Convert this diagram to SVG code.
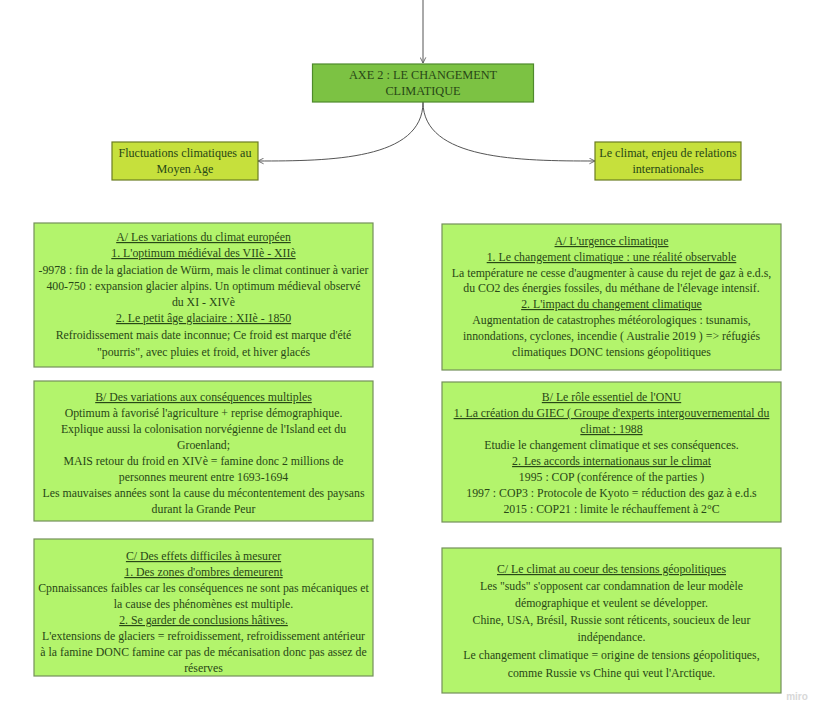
<svg xmlns="http://www.w3.org/2000/svg" width="828" height="721" viewBox="0 0 828 721">
<style>
.t{font-family:"Liberation Serif","Times New Roman",serif;font-size:11.8px;fill:#284716;text-anchor:middle}
.u{text-decoration:underline}
.top{fill:#7cc243;stroke:#4f8a2c;stroke-width:1.2}
.lvl{fill:#c6e03c;stroke:#6c7d22;stroke-width:1.2}
.box{fill:#b3f46c;stroke:#74905a;stroke-width:1.2}
.c{fill:none;stroke:#555;stroke-width:1}
</style>
<defs>
<marker id="ah" viewBox="0 0 10 10" refX="9" refY="5" markerWidth="7" markerHeight="7" orient="auto-start-reverse" markerUnits="userSpaceOnUse">
<path d="M1,1 L9,5 L1,9" fill="none" stroke="#555" stroke-width="1.2"/>
</marker>
</defs>
<rect width="828" height="721" fill="#fff"/>
<g id="connectors">
<path class="c" d="M423,0 L423,63" marker-end="url(#ah)"/>
<path class="c" d="M423,102 C423,160 330,161 258,161" marker-end="url(#ah)"/>
<path class="c" d="M423,102 C423,160 520,161 595,161" marker-end="url(#ah)"/>
</g>
<g id="axe2">
<rect class="top" x="312.5" y="64" width="221" height="38"/>
<text class="t" x="423" y="79" style="font-size:12.3px">AXE 2 : LE CHANGEMENT</text>
<text class="t" x="423" y="95" style="font-size:12.3px">CLIMATIQUE</text>
</g>
<g id="fluctuations">
<rect class="lvl" x="112" y="142" width="146" height="38"/>
<text class="t" x="185" y="157" style="font-size:12.1px">Fluctuations climatiques au</text>
<text class="t" x="185" y="173" style="font-size:12.1px">Moyen Age</text>
</g>
<g id="enjeu">
<rect class="lvl" x="595" y="142" width="146" height="38"/>
<text class="t" x="668" y="157" style="font-size:12.1px">Le climat, enjeu de relations</text>
<text class="t" x="668" y="173" style="font-size:12.1px">internationales</text>
</g>
<g id="left-a">
<rect class="box" x="34" y="223" width="339" height="144"/>
<text class="t u" x="203.5" y="241">A/ Les variations du climat européen</text>
<text class="t u" x="203.5" y="257">1. L'optimum médiéval des VIIè - XIIè</text>
<text class="t" x="203.5" y="274">-9978 : fin de la glaciation de Würm, mais le climat continuer à varier</text>
<text class="t" x="203.5" y="290">400-750 : expansion glacier alpins. Un optimum médieval observé</text>
<text class="t" x="203.5" y="306">du XI - XIVè</text>
<text class="t u" x="203.5" y="322">2. Le petit âge glaciaire  : XIIè - 1850</text>
<text class="t" x="203.5" y="339">Refroidissement mais date inconnue; Ce froid est marque d'été</text>
<text class="t" x="203.5" y="356">"pourris", avec pluies et froid, et hiver glacés</text>
</g>
<g id="left-b">
<rect class="box" x="34" y="381" width="339" height="140"/>
<text class="t u" x="203.5" y="401">B/ Des variations aux conséquences multiples</text>
<text class="t" x="203.5" y="417">Optimum à favorisé l'agriculture + reprise démographique.</text>
<text class="t" x="203.5" y="433">Explique aussi la colonisation norvégienne de l'Island eet du</text>
<text class="t" x="203.5" y="449">Groenland;</text>
<text class="t" x="203.5" y="465">MAIS retour du froid en XIVè = famine donc 2 millions de</text>
<text class="t" x="203.5" y="481">personnes meurent entre 1693-1694</text>
<text class="t" x="203.5" y="497">Les mauvaises années sont la cause du mécontentement des paysans</text>
<text class="t" x="203.5" y="513">durant la Grande Peur</text>
</g>
<g id="left-c">
<rect class="box" x="34" y="539" width="339" height="137"/>
<text class="t u" x="203.5" y="560">C/ Des effets difficiles à mesurer</text>
<text class="t u" x="203.5" y="576">1. Des zones d'ombres demeurent</text>
<text class="t" x="203.5" y="592">Cpnnaissances faibles car les conséquences ne sont pas mécaniques et</text>
<text class="t" x="203.5" y="608">la cause des phénomènes est multiple.</text>
<text class="t u" x="203.5" y="624">2. Se garder de conclusions hâtives.</text>
<text class="t" x="203.5" y="640">L'extensions de glaciers = refroidissement, refroidissement  antérieur</text>
<text class="t" x="203.5" y="656">à la famine DONC famine car pas de mécanisation donc pas assez de</text>
<text class="t" x="203.5" y="672">réserves</text>
</g>
<g id="right-a">
<rect class="box" x="442" y="224" width="339" height="146"/>
<text class="t u" x="611.5" y="245">A/ L'urgence climatique</text>
<text class="t u" x="611.5" y="261">1. Le changement climatique : une réalité observable</text>
<text class="t" x="611.5" y="277">La température ne cesse d'augmenter à cause du rejet de gaz à e.d.s,</text>
<text class="t" x="611.5" y="292">du CO2 des énergies fossiles, du méthane de l'élevage intensif.</text>
<text class="t u" x="611.5" y="308">2. L'impact du changement climatique</text>
<text class="t" x="611.5" y="324">Augmentation de catastrophes météorologiques : tsunamis,</text>
<text class="t" x="611.5" y="340">innondations, cyclones, incendie ( Australie 2019 ) =&gt; réfugiés</text>
<text class="t" x="611.5" y="356">climatiques DONC tensions géopolitiques</text>
</g>
<g id="right-b">
<rect class="box" x="442" y="382" width="339" height="140"/>
<text class="t u" x="611.5" y="401">B/ Le rôle essentiel de l'ONU</text>
<text class="t u" x="611.5" y="417">1. La création du GIEC ( Groupe d'experts intergouvernemental du</text>
<text class="t u" x="611.5" y="433">climat  : 1988</text>
<text class="t" x="611.5" y="449">Etudie le changement climatique et ses conséquences.</text>
<text class="t u" x="611.5" y="465">2. Les accords internationaus sur le climat</text>
<text class="t" x="611.5" y="481">1995 : COP (conférence of the parties )</text>
<text class="t" x="611.5" y="497">1997 : COP3 : Protocole de Kyoto = réduction des gaz à e.d.s</text>
<text class="t" x="611.5" y="513">2015 : COP21 : limite le réchauffement à 2°C</text>
</g>
<g id="right-c">
<rect class="box" x="442" y="548" width="339" height="145"/>
<text class="t u" x="611.5" y="573">C/ Le climat au coeur des tensions géopolitiques</text>
<text class="t" x="611.5" y="590">Les "suds" s'opposent car condamnation de leur modèle</text>
<text class="t" x="611.5" y="607">démographique et veulent se développer.</text>
<text class="t" x="611.5" y="624">Chine, USA, Brésil, Russie sont réticents, soucieux de leur</text>
<text class="t" x="611.5" y="641">indépendance.</text>
<text class="t" x="611.5" y="659">Le changement climatique = origine de tensions géopolitiques,</text>
<text class="t" x="611.5" y="677">comme Russie vs Chine qui veut l'Arctique.</text>
</g>
<text x="797" y="700" style="font-family:'Liberation Sans',Arial,sans-serif;font-size:10px;font-weight:bold;fill:#d8d8d8;text-anchor:middle">miro</text>
</svg>
